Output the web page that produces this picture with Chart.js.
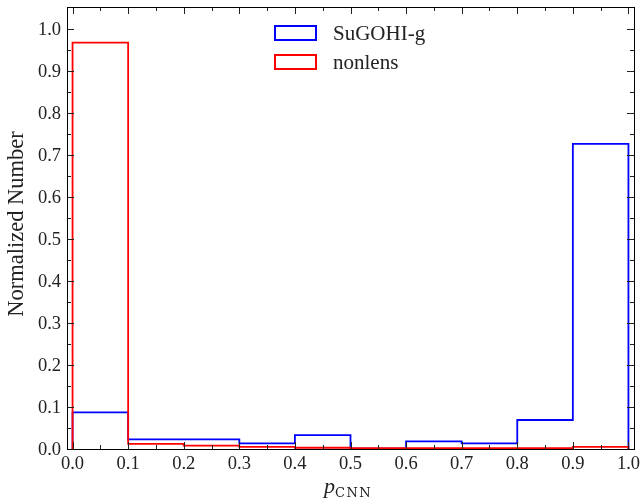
<!DOCTYPE html>
<html>
<head>
<meta charset="utf-8">
<script src="https://cdn.jsdelivr.net/npm/chart.js@4/dist/chart.umd.min.js"></script>
<style>
  html, body { margin: 0; padding: 0; background: #fff; }
  #wrap { width: 643px; height: 504px; }
</style>
</head>
<body>
<div id="wrap"><canvas id="myChart" width="643" height="504"></canvas></div>
<script>
// bin edges and normalized counts per bin
const binEdges = [0.0, 0.1, 0.2, 0.3, 0.4, 0.5, 0.6, 0.7, 0.8, 0.9, 1.0];
const sugohiValues = [0.087, 0.023, 0.023, 0.0135, 0.033, 0.001, 0.018, 0.0135, 0.069, 0.726];
const nonlensValues = [0.967, 0.012, 0.008, 0.005, 0.003, 0.002, 0.002, 0.002, 0.002, 0.005];

const xTickValues = [0.0, 0.1, 0.2, 0.3, 0.4, 0.5, 0.6, 0.7, 0.8, 0.9, 1.0];
const yTickValues = [0.0, 0.1, 0.2, 0.3, 0.4, 0.5, 0.6, 0.7, 0.8, 0.9, 1.0];

const SUGOHI = 'SuGOHI-g';
const NONLENS = 'nonlens';
const lineColors = new Map([
  [SUGOHI, '#0000ff'],
  [NONLENS, '#ff0000'],
]);

const FONT = '"Liberation Serif", "DejaVu Serif", serif';
const TEXT_COLOR = '#222';

// step outline like matplotlib histtype='step'
function stepPoints(edges, values) {
  const pts = [{x: edges[0], y: 0}];
  values.forEach((v, i) => {
    pts.push({x: edges[i], y: v});
    pts.push({x: edges[i + 1], y: v});
  });
  pts.push({x: edges[edges.length - 1], y: 0});
  return pts;
}

// frame, inward ticks on all sides, tick labels, legend, axis titles
const frameTicks = {
  id: 'frameTicks',
  afterDraw(chart) {
    const ctx = chart.ctx;
    const a = chart.chartArea;
    const xs = chart.scales.x, ys = chart.scales.y;
    ctx.save();
    ctx.strokeStyle = '#222';
    ctx.lineWidth = 1;
    ctx.beginPath();
    for (let i = 0; i < xTickValues.length; i++) {
      const px = Math.round(xs.getPixelForValue(xTickValues[i])) + 0.5;
      ctx.moveTo(px, a.bottom); ctx.lineTo(px, a.bottom - 7);
      ctx.moveTo(px, a.top); ctx.lineTo(px, a.top + 7);
      if (i < xTickValues.length - 1) {
        const mx = Math.round(xs.getPixelForValue((xTickValues[i] + xTickValues[i + 1]) / 2)) + 0.5;
        ctx.moveTo(mx, a.bottom); ctx.lineTo(mx, a.bottom - 4);
        ctx.moveTo(mx, a.top); ctx.lineTo(mx, a.top + 4);
      }
    }
    for (let i = 0; i < yTickValues.length; i++) {
      const py = Math.round(ys.getPixelForValue(yTickValues[i])) + 0.5;
      ctx.moveTo(a.left, py); ctx.lineTo(a.left + 7, py);
      ctx.moveTo(a.right, py); ctx.lineTo(a.right - 7, py);
      if (i < yTickValues.length - 1) {
        const my = Math.round(ys.getPixelForValue((yTickValues[i] + yTickValues[i + 1]) / 2)) + 0.5;
        ctx.moveTo(a.left, my); ctx.lineTo(a.left + 4, my);
        ctx.moveTo(a.right, my); ctx.lineTo(a.right - 4, my);
      }
    }
    ctx.stroke();
    ctx.strokeStyle = '#000';
    ctx.strokeRect(Math.round(a.left) + 0.5, Math.round(a.top) + 0.5,
      Math.round(a.right - a.left), Math.round(a.bottom - a.top));

    // tick labels
    ctx.fillStyle = TEXT_COLOR;
    ctx.font = '18.5px ' + FONT;
    ctx.textAlign = 'center';
    ctx.textBaseline = 'alphabetic';
    xTickValues.forEach(v => {
      ctx.fillText(v.toFixed(1), xs.getPixelForValue(v), a.bottom + 20);
    });
    ctx.textAlign = 'right';
    ctx.textBaseline = 'middle';
    yTickValues.forEach(v => {
      ctx.fillText(v.toFixed(1), a.left - 6, ys.getPixelForValue(v) + 1);
    });

    // legend (outlined patches)
    ctx.lineWidth = 2;
    ctx.font = '21px ' + FONT;
    ctx.textAlign = 'left';
    ctx.textBaseline = 'alphabetic';
    chart.data.datasets.slice().reverse().forEach((ds, i) => {
      const y = 26 + i * 29;
      ctx.strokeStyle = ds.borderColor;
      ctx.strokeRect(275, y, 41, 14);
      ctx.fillStyle = TEXT_COLOR;
      ctx.fillText(ds.label, 333, y + 14);
    });

    // axis titles
    ctx.fillStyle = TEXT_COLOR;
    ctx.font = 'italic 22px ' + FONT;
    ctx.fillText('p', 324, 493);
    ctx.font = '13px "DejaVu Serif", serif';
    ctx.letterSpacing = '1.5px';
    ctx.fillText('CNN', 335, 497);
    ctx.letterSpacing = '0px';

    ctx.save();
    ctx.translate(23, 224);
    ctx.rotate(-Math.PI / 2);
    ctx.font = '22.5px ' + FONT;
    ctx.textAlign = 'center';
    ctx.fillText('Normalized Number', 0, 0);
    ctx.restore();
    ctx.restore();
  }
};

const ctx = document.getElementById('myChart');
const chart = new Chart(ctx, {
  type: 'line',
  data: {
    datasets: [
      {
        label: NONLENS,
        data: stepPoints(binEdges, nonlensValues),
        borderColor: lineColors.get(NONLENS),
        borderWidth: 1.8,
        order: 0,
      },
      {
        label: SUGOHI,
        data: stepPoints(binEdges, sugohiValues),
        borderColor: lineColors.get(SUGOHI),
        borderWidth: 1.8,
        order: 1,
      },
    ],
  },
  options: {
    responsive: false,
    animation: false,
    elements: {
      point: { radius: 0 },
      line: { tension: 0, fill: false, borderJoinStyle: 'miter', borderCapStyle: 'butt' },
    },
    layout: { padding: { left: 0, right: 9, top: 7, bottom: 0 } },
    scales: {
      x: {
        type: 'linear',
        min: -0.01,
        max: 1.01,
        afterBuildTicks: (s) => { s.ticks = xTickValues.map(v => ({value: v})); },
        afterFit: (s) => { s.height = 55; },
        grid: { display: false, drawTicks: false },
        border: { display: false },
        ticks: { display: false },
      },
      y: {
        min: 0,
        max: 1.052,
        afterBuildTicks: (s) => { s.ticks = yTickValues.map(v => ({value: v})); },
        afterFit: (s) => { s.width = 67; },
        grid: { display: false, drawTicks: false },
        border: { display: false },
        ticks: { display: false },
      },
    },
    plugins: {
      legend: { display: false },
      tooltip: { enabled: false },
      title: { display: false },
    },
  },
  plugins: [frameTicks],
});
</script>
</body>
</html>
